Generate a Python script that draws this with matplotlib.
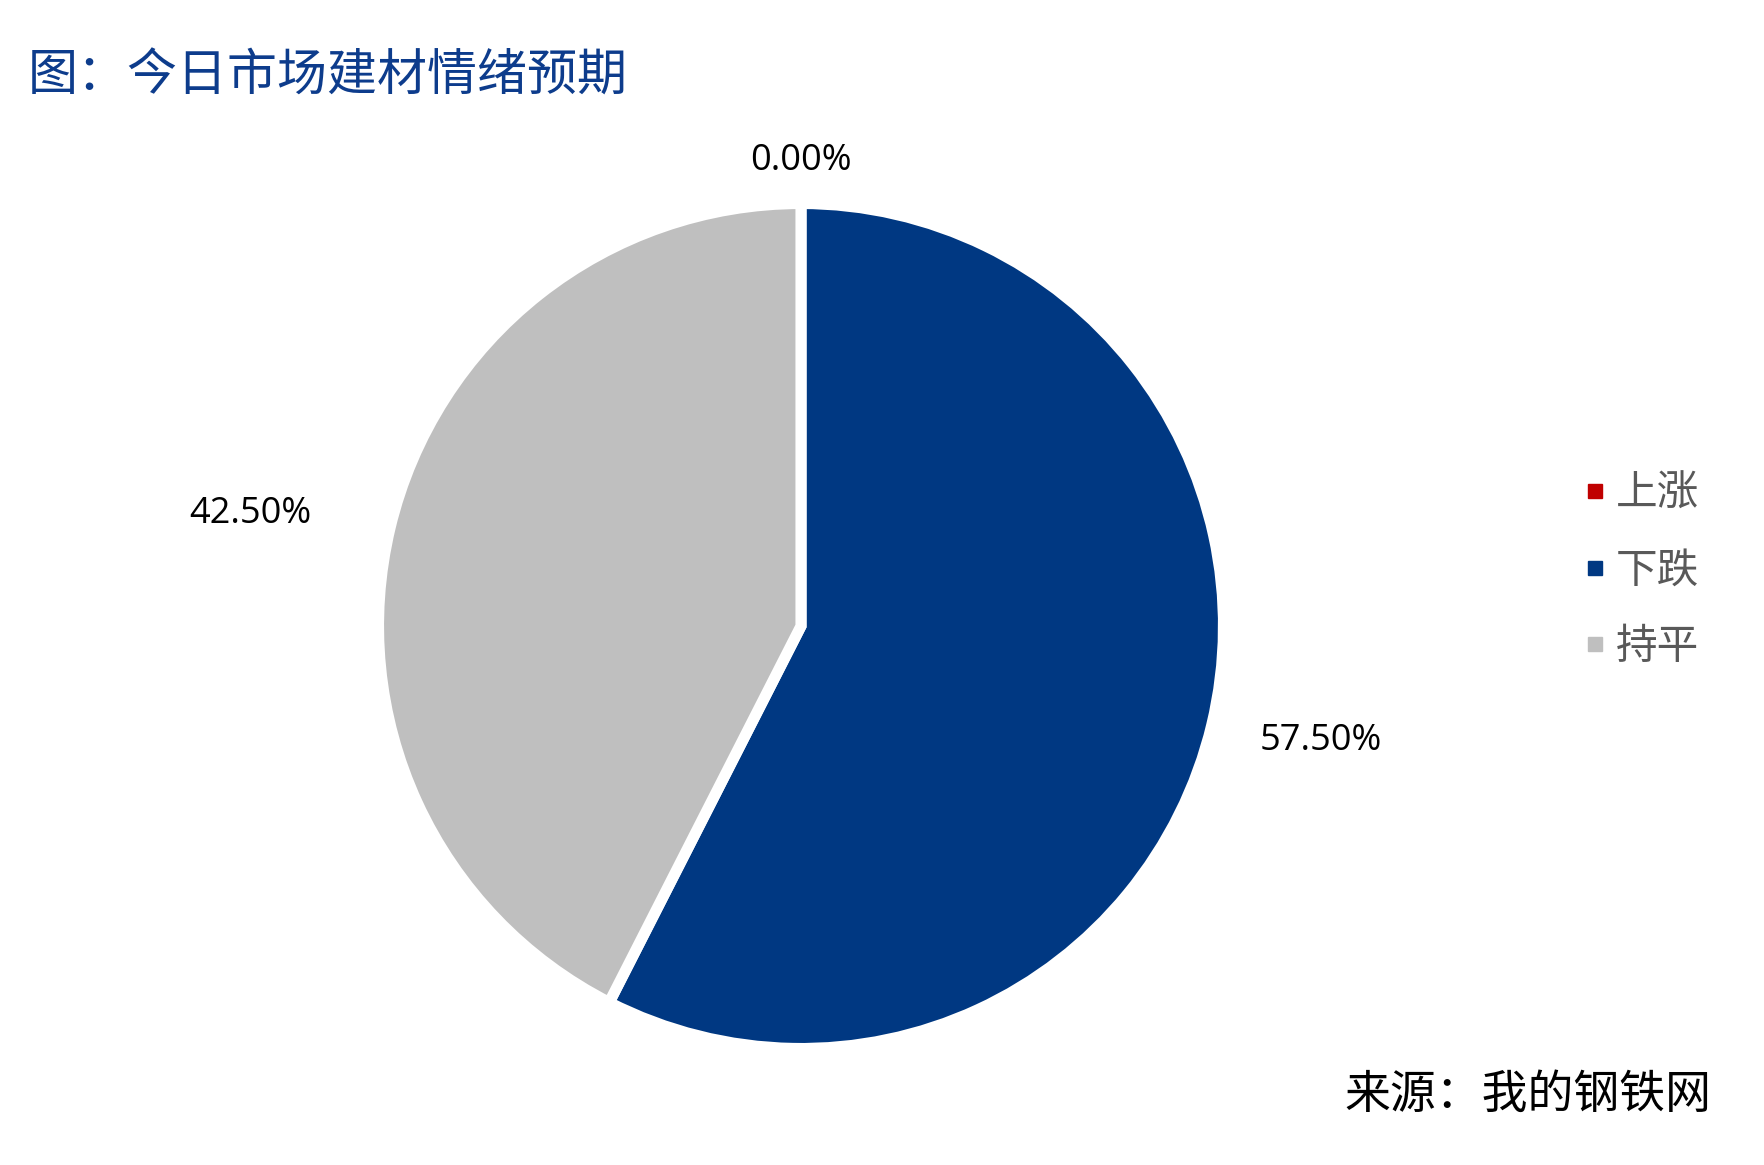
import matplotlib
matplotlib.use("Agg")
import matplotlib.pyplot as plt
from matplotlib.lines import Line2D
import numpy as np

plt.rcParams['font.family'] = ['Noto Sans CJK SC', 'DejaVu Sans']

categories = ['上涨', '下跌', '持平']
values = [0.0, 57.5, 42.5]
colors = ['#C00000', '#003882', '#BFBFBF']
title = '图：今日市场建材情绪预期'
source = '来源：我的钢铁网'

W, H = 1764, 1165
fig = plt.figure(figsize=(W / 100, H / 100), dpi=100)
cx, cy, r = 801, 626, 422.5
ax = fig.add_axes([(cx - r) / W, (H - cy - r) / H, 2 * r / W, 2 * r / H])
wedges, _ = ax.pie(values, colors=colors, startangle=90, counterclock=False,
                   radius=1.0, wedgeprops=dict(edgecolor='white', linewidth=8))
ax.set_xlim(-1, 1)
ax.set_ylim(-1, 1)
ax.set_aspect('equal')
ax.axis('off')

label_dist = [1.1, 1.26, 1.33]
label_rot = [0.0, 1.0, 2.0]
total = sum(values)
for w, v, d, rot in zip(wedges, values, label_dist, label_rot):
    ang = np.deg2rad((w.theta1 + w.theta2) / 2 + rot)
    ax.text(d * np.cos(ang), d * np.sin(ang), f'{v / total * 100:.2f}%',
            ha='center', va='center', fontsize=26, color='black',
            family=['Open Sans', 'DejaVu Sans'])

fig.text(28 / W, 1 - 77 / H, title, ha='left', va='center', fontsize=36,
         color='#0D3C8C')
fig.text(1711 / W, 1 - 1095 / H, source, ha='right', va='center', fontsize=33,
         color='black')

handles = [Line2D([0], [0], marker='s', linestyle='none', markersize=10,
                  markerfacecolor=c, markeredgecolor=c) for c in colors]
leg = fig.legend(handles, categories, loc='center left',
                 bbox_to_anchor=(1585 / W, 1 - 571 / H), frameon=False,
                 fontsize=30, handlelength=0.5, handletextpad=0.25,
                 labelspacing=0.85, borderpad=0, borderaxespad=0)
for t in leg.get_texts():
    t.set_color('#595959')

fig.savefig('out.png', dpi=100, facecolor='white')
